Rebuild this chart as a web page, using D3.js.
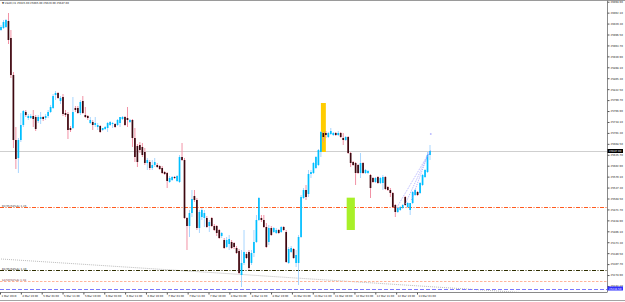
<!DOCTYPE html>
<html>
<head>
<meta charset="utf-8">
<script src="https://cdn.jsdelivr.net/npm/d3@7"></script>
<style>
html, body { margin: 0; padding: 0; background: #fff; overflow: hidden; }
svg text { font-family: "DejaVu Sans", sans-serif; }
</style>
</head>
<body>
<svg id="chart" width="625" height="302"></svg>
<script>
// US30 H1 candles
var openP = [26010,26016,26019,26037,25986,25875,25680,25626,25680,25725,
  25764,25746,25746,25752,25749,25737,25743,25749,25746,25752,
  25764,25776,25815,25821,25797,25809,25761,25758,25716,25716,
  25776,25776,25761,25797,25755,25752,25731,25734,25725,25719,
  25722,25710,25713,25716,25725,25728,25728,25725,25731,25743,
  25749,25746,25734,25740,25686,25662,25665,25659,25644,25611,
  25614,25596,25605,25605,25602,25596,25584,25581,25554,25560,
  25569,25557,25554,25629,25620,25446,25422,25461,25512,25500,
  25416,25449,25446,25446,25422,25446,25422,25422,25410,25392,
  25380,25359,25368,25374,25371,25356,25347,25275,25311,25338,
  25344,25311,25341,25374,25440,25446,25440,25419,25374,25416,
  25404,25401,25410,25404,25419,25404,25311,25344,25353,25311,
  25311,25389,25506,25530,25518,25578,25581,25596,25605,25644,
  25701,25701,25689,25698,25695,25701,25695,25701,25686,25680,
  25689,25641,25614,25611,25605,25581,25611,25581,25581,25575,
  25566,25554,25569,25551,25551,25569,25539,25530,25521,25485,
  25464,25470,25476,25509,25479,25470,25491,25515,25524,25521,
  25545,25569,25584,25635];
var highP = [26025,26040,26043,26061,26010,25884,25719,25686,25761,25770,
  25770,25758,25758,25770,25755,25755,25764,25752,25758,25770,
  25785,25818,25827,25824,25812,25818,25770,25764,25722,25809,
  25782,25782,25800,25812,25779,25755,25749,25740,25749,25731,
  25725,25716,25722,25734,25737,25734,25731,25743,25749,25752,
  25752,25779,25743,25743,25716,25668,25674,25671,25656,25626,
  25620,25620,25626,25611,25605,25602,25587,25584,25572,25572,
  25572,25575,25635,25671,25626,25449,25470,25530,25530,25506,
  25470,25476,25470,25452,25440,25449,25428,25425,25413,25404,
  25386,25389,25395,25380,25374,25362,25353,25350,25410,25344,
  25350,25350,25410,25455,25509,25455,25455,25431,25425,25422,
  25419,25416,25413,25422,25422,25410,25359,25362,25356,25350,
  25395,25515,25536,25545,25590,25590,25614,25632,25653,25707,
  25704,25707,25704,25716,25704,25704,25707,25704,25701,25692,
  25692,25644,25617,25614,25608,25641,25614,25593,25590,25578,
  25569,25569,25572,25569,25575,25572,25542,25536,25524,25488,
  25479,25482,25488,25512,25494,25491,25527,25533,25527,25554,
  25578,25593,25644,25665];
var lowP = [26007,26013,26016,25968,25866,25656,25593,25581,25674,25719,
  25749,25740,25743,25719,25707,25731,25728,25737,25740,25746,
  25761,25773,25800,25803,25788,25752,25749,25683,25704,25713,
  25764,25758,25755,25758,25746,25740,25728,25710,25719,25710,
  25701,25707,25710,25704,25722,25716,25716,25722,25719,25740,
  25722,25719,25731,25659,25614,25599,25641,25629,25605,25590,
  25590,25590,25599,25596,25590,25578,25575,25536,25551,25557,
  25563,25554,25551,25617,25443,25350,25389,25449,25494,25410,
  25401,25440,25419,25416,25404,25419,25407,25392,25383,25386,
  25353,25356,25350,25353,25353,25338,25278,25239,25305,25323,
  25290,25305,25329,25371,25437,25434,25416,25356,25365,25392,
  25401,25398,25398,25401,25407,25311,25308,25341,25323,25299,
  25245,25386,25503,25500,25509,25566,25578,25593,25602,25629,
  25674,25686,25686,25695,25692,25692,25692,25686,25665,25677,
  25638,25599,25602,25545,25578,25566,25578,25578,25578,25506,
  25551,25551,25548,25548,25530,25530,25527,25509,25476,25449,
  25461,25467,25473,25482,25476,25455,25488,25512,25512,25518,
  25542,25566,25581,25620];
var closeP = [26019,26034,26040,25980,25875,25680,25623,25680,25725,25767,
  25755,25752,25752,25743,25713,25749,25749,25743,25752,25764,
  25779,25812,25821,25806,25806,25758,25755,25710,25710,25764,
  25770,25761,25794,25761,25749,25746,25740,25725,25731,25725,
  25704,25716,25719,25731,25734,25731,25719,25740,25749,25749,
  25725,25740,25740,25686,25629,25614,25650,25635,25611,25620,
  25596,25605,25614,25599,25593,25581,25578,25557,25566,25569,
  25566,25572,25629,25620,25446,25422,25461,25503,25500,25416,
  25464,25470,25461,25419,25434,25422,25410,25401,25386,25401,
  25356,25380,25383,25356,25359,25341,25281,25311,25344,25326,
  25296,25341,25374,25440,25506,25440,25419,25359,25416,25395,
  25416,25410,25401,25419,25410,25314,25353,25356,25326,25335,
  25389,25509,25530,25509,25578,25584,25611,25629,25650,25704,
  25689,25695,25701,25707,25701,25695,25701,25689,25680,25689,
  25641,25611,25605,25581,25581,25611,25581,25590,25587,25536,
  25554,25566,25551,25566,25569,25533,25530,25521,25479,25464,
  25476,25479,25485,25485,25491,25491,25524,25530,25515,25551,
  25575,25590,25635,25647];

var priceTicks = ["26094.90","26062.10","26029.30","25996.50","25963.70","25930.90","25898.10",
  "25865.30","25832.50","25799.70","25766.90","25734.10","25701.30","25668.50","25635.70",
  "25602.90","25570.10","25537.30","25504.50","25471.70","25438.90","25406.10","25373.30",
  "25340.50","25307.70","25274.90","25242.10"];
var timeLabels = ["1 Mar 2019","4 Mar 19:00","5 Mar 03:00","5 Mar 11:00","5 Mar 19:00",
  "6 Mar 03:00","6 Mar 11:00","6 Mar 19:00","7 Mar 03:00","7 Mar 11:00","7 Mar 19:00",
  "8 Mar 03:00","8 Mar 11:00","8 Mar 19:00","11 Mar 03:00","11 Mar 11:00","11 Mar 19:00",
  "12 Mar 03:00","12 Mar 11:00","12 Mar 19:00","13 Mar 03:00"];

// horizontal levels drawn on the chart
var levelNames = ["R2(55)58%Ac 1.26", "R1(55)58%Ac 1.30", "S1(50)58%Ac 1.38", ""];
var levelPrices = [25479, 25291.5, 25258.5, 25234.5];
var levelColors = ["#ff5a1e", "#2e2e00", "#ffb49a", "#7a78ff"];
var levelDash = ["4,1.5,1,1.5", "4,1.5,1,1.5", "2.5,1.5", "4,2"];
var levelTextColors = ["#333", "#222", "#7a3a3a", "#000"];

// objects drawn by hand: [bar index, price]
var trendLine = [[0, 25323], [219, 25218]];
var fanLines = [[[159.5, 25476], [173.3, 25650]], [[165.5, 25500], [172.4, 25641]], [[163, 25488], [172.8, 25645]]];
var boxYellow = [[129, 25791], [131, 25644]];
var boxGreen = [[139.4, 25507], [142.7, 25410]];
var markerPoint = [173.3, 25698];

var W = 625, H = 302, plotR = 607, plotB = 292;
var N = closeP.length;
var svg = d3.select("#chart");

var x = d3.scaleLinear().domain([0, N - 1]).range([1, 430]);
var y = d3.scaleLinear().domain([25227, 26100]).range([291, 0]);

svg.append("rect").attr("width", W).attr("height", H).attr("fill", "#fff");

svg.append("defs").append("clipPath").attr("id", "plotclip")
  .append("rect").attr("x", 0).attr("y", 0).attr("width", plotR).attr("height", plotB);

var plot = svg.append("g").attr("clip-path", "url(#plotclip)");

// bid line
var lastClose = closeP[N - 1];
plot.append("line")
  .attr("x1", 0).attr("x2", plotR)
  .attr("y1", Math.round(y(lastClose)) + 0.5).attr("y2", Math.round(y(lastClose)) + 0.5)
  .attr("stroke", "#cfcfcf").attr("stroke-width", 1);

// trend line (dotted gray)
plot.append("line")
  .attr("x1", x(trendLine[0][0])).attr("y1", y(trendLine[0][1]))
  .attr("x2", x(trendLine[1][0])).attr("y2", y(trendLine[1][1]))
  .attr("stroke", "#a8a8a8").attr("stroke-width", 0.8).attr("stroke-dasharray", "1,1");

// levels
levelPrices.forEach(function (p, i) {
  var yy = Math.round(y(p)) + 0.5;
  plot.append("line")
    .attr("x1", 0).attr("x2", plotR).attr("y1", yy).attr("y2", yy)
    .attr("stroke", levelColors[i]).attr("stroke-width", 1)
    .attr("stroke-dasharray", levelDash[i]);
  if (levelNames[i]) {
    plot.append("text")
      .attr("x", 2).attr("y", yy - 0.6)
      .attr("font-size", 2.6).attr("fill", levelTextColors[i])
      .text(levelNames[i]);
  }
});

// boxes
plot.append("rect")
  .attr("x", x(boxYellow[0][0])).attr("y", y(boxYellow[0][1]))
  .attr("width", x(boxYellow[1][0]) - x(boxYellow[0][0]))
  .attr("height", y(boxYellow[1][1]) - y(boxYellow[0][1]))
  .attr("fill", "#ffcc00");
plot.append("rect")
  .attr("x", x(boxGreen[0][0])).attr("y", y(boxGreen[0][1]))
  .attr("width", x(boxGreen[1][0]) - x(boxGreen[0][0]))
  .attr("height", y(boxGreen[1][1]) - y(boxGreen[0][1]))
  .attr("fill", "#a8f028");

// candles
var bars = d3.range(N).map(function (i) {
  return { i: i, o: openP[i], h: highP[i], l: lowP[i], c: closeP[i] };
});
var bodyW = 1.7;

plot.selectAll(".wick").data(bars).enter().append("rect")
  .attr("class", "wick")
  .attr("x", function (d) { return x(d.i) - 0.45; })
  .attr("width", 0.9)
  .attr("y", function (d) { return y(d.h); })
  .attr("height", function (d) { return Math.max(1, y(d.l) - y(d.h)); })
  .attr("fill", function (d) { return d.c >= d.o ? "#9fd2ff" : "#f0879c"; });

plot.selectAll(".body").data(bars).enter().append("rect")
  .attr("class", "body")
  .attr("x", function (d) { return x(d.i) - bodyW / 2; })
  .attr("width", bodyW)
  .attr("y", function (d) { return y(Math.max(d.o, d.c)); })
  .attr("height", function (d) { return Math.max(1, Math.abs(y(d.o) - y(d.c))); })
  .attr("fill", function (d) { return d.c >= d.o ? "#00bfff" : "#3d0810"; });

// fan lines
fanLines.forEach(function (ln) {
  plot.append("line")
    .attr("x1", x(ln[0][0])).attr("y1", y(ln[0][1]))
    .attr("x2", x(ln[1][0])).attr("y2", y(ln[1][1]))
    .attr("stroke", "#8c8cff").attr("stroke-width", 0.7).attr("stroke-dasharray", "1,1");
});
plot.append("rect")
  .attr("x", x(markerPoint[0]) - 0.8).attr("y", y(markerPoint[1]) - 0.8)
  .attr("width", 1.6).attr("height", 1.6).attr("fill", "#b4b4ff");

// frame
svg.append("line").attr("x1", 0).attr("x2", W).attr("y1", 0.5).attr("y2", 0.5)
  .attr("stroke", "#9a9a9a");
svg.append("line").attr("x1", plotR + 0.5).attr("x2", plotR + 0.5).attr("y1", 0).attr("y2", plotB)
  .attr("stroke", "#8a8a8a");
svg.append("line").attr("x1", 0).attr("x2", plotR + 0.5).attr("y1", plotB + 0.5).attr("y2", plotB + 0.5)
  .attr("stroke", "#8a8a8a");
svg.append("line").attr("x1", 0).attr("x2", W).attr("y1", 300.5).attr("y2", 300.5)
  .attr("stroke", "#a4a4a4");

// price axis
var yAxis = d3.axisRight(y)
  .tickValues(priceTicks.map(Number))
  .tickFormat(d3.format(".2f"))
  .tickSize(2).tickSizeOuter(0).tickPadding(1);
var gy = svg.append("g").attr("transform", "translate(" + (plotR + 0.5) + ",0)").call(yAxis);
gy.select(".domain").remove();
gy.selectAll("line").attr("stroke", "#555");
gy.selectAll("text").attr("font-size", 2.6).attr("fill", "#111").attr("font-family", "DejaVu Sans");

// current price and blue level labels
function priceTag(p, bg) {
  var yy = y(p);
  svg.append("rect").attr("x", plotR + 0.5).attr("y", yy - 2).attr("width", 15.5).attr("height", 4)
    .attr("fill", bg);
  svg.append("text").attr("x", plotR + 2).attr("y", yy + 1)
    .attr("font-size", 2.6).attr("fill", "#fff").text(d3.format(".2f")(p));
}
priceTag(lastClose, "#000");
priceTag(levelPrices[3], "#3030ff");

// time axis
var xt = d3.scalePoint().domain(timeLabels).range([0, 417]);
var xAxis = d3.axisBottom(xt).tickSize(2).tickSizeOuter(0).tickPadding(1);
var gx = svg.append("g").attr("transform", "translate(0," + (plotB + 0.5) + ")").call(xAxis);
gx.select(".domain").remove();
gx.selectAll("line").attr("stroke", "#555");
gx.selectAll("text").attr("font-size", 2.6).attr("fill", "#111")
  .attr("text-anchor", "start").attr("dx", 1).attr("font-family", "DejaVu Sans");

// title
var last = bars[N - 1];
svg.append("text").attr("x", 2).attr("y", 4.2).attr("font-size", 2.6).attr("fill", "#111")
  .text("\u25BC US30,H1  " + [last.o, last.h, last.l, last.c].map(d3.format(".2f")).join(" "));
</script>
</body>
</html>
